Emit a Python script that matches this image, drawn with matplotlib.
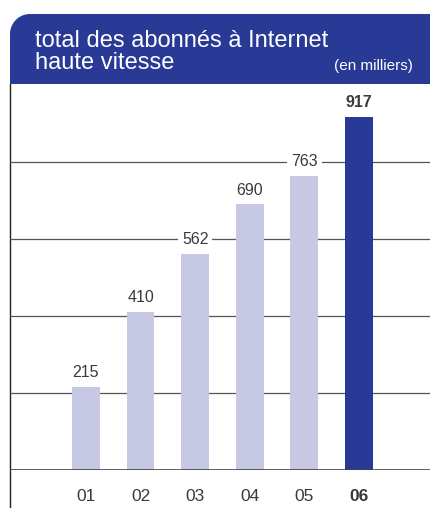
import matplotlib
matplotlib.use("Agg")
import matplotlib.pyplot as plt
import numpy as np
from matplotlib.patches import PathPatch
from matplotlib.path import Path

plt.rcParams['font.family'] = ['Liberation Sans', 'DejaVu Sans']

# donnees
annees = ['01', '02', '03', '04', '05', '06']
abonnes = [215, 410, 562, 690, 763, 917]
grille = [200, 400, 600, 800]

bleu = '#283a96'
lilas = '#c6c8e4'
gris_txt = '#3a3a3a'

fig = plt.figure(figsize=(4.3, 5.08), dpi=100)

# calque en pixels pour l'en-tete et le filet gauche
over = fig.add_axes([0, 0, 1, 1], zorder=0)
over.set_xlim(0, 430)
over.set_ylim(508, 0)
over.set_axis_off()

# bandeau bleu, coin haut gauche arrondi
r = 20
t = np.linspace(np.pi, 1.5 * np.pi, 20)
arc = np.column_stack([10 + r + r * np.cos(t), 14 + r + r * np.sin(t)])
pts = np.vstack([[[10, 84]], arc, [[432, 14], [432, 84], [10, 84]]])
codes = [Path.MOVETO] + [Path.LINETO] * (len(pts) - 2) + [Path.CLOSEPOLY]
over.add_patch(PathPatch(Path(pts, codes), facecolor=bleu, edgecolor='none'))
over.text(35, 47, 'total des abonnés à Internet', color='white', fontsize=17, va='baseline')
over.text(35, 69, 'haute vitesse', color='white', fontsize=17, va='baseline')
over.text(413, 70, '(en milliers)', color='white', fontsize=11, ha='right', va='baseline')
over.plot([10, 10], [84, 508], color='#222222', lw=1)

# graphique
ax = fig.add_axes([10 / 430, 38 / 508, 420 / 430, 386 / 508], zorder=1)
ax.patch.set_alpha(0)
x = np.arange(len(annees))
couleurs = [lilas] * (len(annees) - 1) + [bleu]
ax.bar(x, abonnes, width=0.51, color=couleurs, zorder=2)

for g in grille:
    ax.axhline(g, color='#555555', lw=0.9, zorder=1)
ax.axhline(0, color='#444444', lw=1.2, zorder=3)

for i, v in enumerate(abonnes):
    dernier = i == len(abonnes) - 1
    ax.annotate(str(v), (x[i], v), xytext=(0, 5), textcoords='offset points',
                ha='center', va='bottom', fontsize=11.5, color=gris_txt,
                fontweight='bold' if dernier else 'normal', zorder=4,
                bbox=dict(boxstyle='square,pad=0.25', fc='white', ec='none'))

ax.set_xlim(-1.39, 6.3)
ax.set_ylim(0, 1003)
ax.set_yticks([])
ax.set_xticks(x)
ax.set_xticklabels(annees, fontsize=12.5, color=gris_txt)
ax.get_xticklabels()[-1].set_fontweight('bold')
ax.tick_params(axis='x', length=0, pad=14)
for s in ax.spines.values():
    s.set_visible(False)

fig.savefig('out.png', dpi=100)
